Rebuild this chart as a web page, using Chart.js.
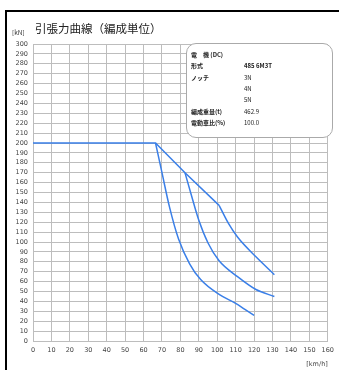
<!DOCTYPE html>
<html>
<head>
<meta charset="utf-8">
<script src="https://cdn.jsdelivr.net/npm/chart.js@4"></script>
<style>
  body { margin: 0; background: #fff; font-family: "Noto Sans CJK JP", "DejaVu Sans", sans-serif; }
  #wrap { position: relative; width: 339px; height: 370px; overflow: hidden; }
  #frame { position: absolute; left: 5px; top: 10px; right: -5px; bottom: -5px; border-left: 2px solid #000; border-top: 2px solid #000; }
  #unit { position: absolute; left: 12px; top: 27px; font-size: 6.5px; color: #333; }
  #title { position: absolute; left: 35px; top: 20px; font-size: 11.5px; color: #222; }
  #info { position: absolute; left: 186px; top: 43px; width: 145px; height: 93px; background: #fff; border: 1px solid #aaa; border-radius: 10px; font-size: 6px; color: #222; }
  #info div { position: absolute; white-space: nowrap; }
  .k { left: 4px; font-weight: bold; }
  .v { left: 57px; }
  canvas { position: absolute; left: 0; top: 0; }
</style>
</head>
<body>
<div id="wrap">
  <canvas id="chart" width="339" height="370"></canvas>
  <div id="frame"></div>
  <div id="unit">[kN]</div>
  <div id="title">引張力曲線（編成単位）</div>
  <div id="info"></div>
</div>
<script>
// 速度 [km/h] と引張力 [kN]
// 定引張力域 + 5N の直線部
const flatSpeed = [0, 66.5, 82.5, 101];
const flatForce = [200, 200, 170, 137];
const notch5Speed = [101, 106, 111, 121, 131];
const notch5Force = [137, 119, 105, 85, 67];
const notch4Speed = [82.5, 86, 90, 95, 101, 111, 121, 131];
const notch4Force = [170, 147, 122, 99, 81, 65, 52, 45];
const notch3Speed = [66.5, 70, 74, 79, 85, 91, 101, 110, 115, 120];
const notch3Force = [200, 170, 136, 103, 78, 62, 47, 38, 32, 26];

const xTicks = [0, 10, 20, 30, 40, 50, 60, 70, 80, 90, 100, 110, 120, 130, 140, 150, 160];
const yTicks = [0, 10, 20, 30, 40, 50, 60, 70, 80, 90, 100, 110, 120, 130, 140, 150, 160, 170, 180, 190, 200, 210, 220, 230, 240, 250, 260, 270, 280, 290, 300];

// 諸元表
const infoLabels = ['電　機 (DC)', '形式', 'ノッチ', '', '', '編成重量(t)', '電動車比(%)'];
const infoValues = ['', '485 6M3T', '3N', '4N', '5N', '462.9', '100.0'];

const info = document.getElementById('info');
infoLabels.forEach((l, i) => {
  const top = 6 + i * 11.3;
  info.insertAdjacentHTML('beforeend', `<div class="k" style="top:${top}px">${l}</div>`);
  if (infoValues[i]) {
    info.insertAdjacentHTML('beforeend', `<div class="v" style="top:${top}px;${i === 1 ? 'font-weight:bold' : ''}">${infoValues[i]}</div>`);
  }
});

function toPoints(xs, ys) {
  return xs.map((x, i) => ({ x, y: ys[i] }));
}

const lineColor = '#3a7fe8';
const mkSet = (label, xs, ys, smooth) => ({
  label,
  data: toPoints(xs, ys),
  borderColor: lineColor,
  borderWidth: 1.5,
  pointRadius: 0,
  tension: smooth ? 0.4 : 0,
  cubicInterpolationMode: smooth ? 'monotone' : 'default',
  fill: false
});

const tickFont = { family: 'DejaVu Sans', size: 6.5 };

new Chart(document.getElementById('chart').getContext('2d'), {
  type: 'line',
  data: {
    datasets: [
      mkSet('定引張力', flatSpeed, flatForce, false),
      mkSet('5N', notch5Speed, notch5Force, true),
      mkSet('4N', notch4Speed, notch4Force, true),
      mkSet('3N', notch3Speed, notch3Force, true)
    ]
  },
  options: {
    responsive: false,
    animation: false,
    layout: { padding: { left: 8, right: 9, top: 44, bottom: 0 } },
    plugins: { legend: { display: false }, tooltip: { enabled: false } },
    scales: {
      x: {
        type: 'linear',
        min: 0, max: 160,
        afterBuildTicks: s => { s.ticks = xTicks.map(v => ({ value: v })); },
        afterFit: s => { s.height = 29; },
        grid: { color: '#bdbdbd', lineWidth: 1, drawTicks: false },
        border: { color: '#bdbdbd' },
        ticks: { font: tickFont, color: '#444', padding: 5, maxRotation: 0, autoSkip: false },
        title: { display: true, text: '[km/h]', align: 'end', font: tickFont, color: '#444', padding: { top: 4, bottom: 2 } }
      },
      y: {
        min: 0, max: 300,
        afterBuildTicks: s => { s.ticks = yTicks.map(v => ({ value: v })); },
        afterFit: s => { s.width = 25; },
        grid: { color: '#bdbdbd', lineWidth: 1, drawTicks: false },
        border: { color: '#bdbdbd' },
        ticks: { font: tickFont, color: '#444', padding: 5, autoSkip: false }
      }
    }
  }
});
</script>
</body>
</html>
